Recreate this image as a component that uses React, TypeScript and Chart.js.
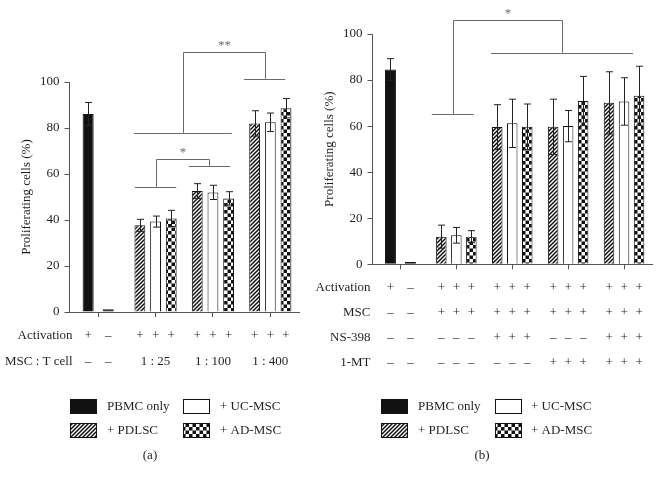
import React, { useEffect, useRef } from 'react';
import { Chart, registerables } from 'chart.js';
Chart.register(...registerables);

const FONT = '"Liberation Serif", "Times New Roman", serif';
const TEXT = '#231f20';
const AXIS = '#555555';
const BRACKET = '#6a6a6a';
const INK = '#111111';

// ---------- Panel (a) data ----------
const catA = ['PBMC', '1 : 25', '1 : 100', '1 : 400'];
const pbmcOnA = [86.1, null, null, null];
const pbmcOffA = [1.2, null, null, null];
const pdlscA = [null, 37.7, 52.6, 82.0];
const ucmscA = [null, 39.3, 52.0, 82.5];
const admscA = [null, 40.7, 49.4, 88.6];
const pbmcOnErrA = [5.0, 0, 0, 0];
const pbmcOffErrA = [0, 0, 0, 0];
const pdlscErrA = [0, 2.6, 3.2, 5.5];
const ucmscErrA = [0, 2.4, 3.1, 4.0];
const admscErrA = [0, 3.5, 2.9, 4.2];
const activationA = [['+', '–'], ['+', '+', '+'], ['+', '+', '+'], ['+', '+', '+']];
const ratioA = [['–', '–'], ['1 : 25'], ['1 : 100'], ['1 : 400']];
const spansA = [
  { from: 0.64, to: 1.36, y: 54.4 },
  { from: 1.58, to: 2.3, y: 63.6 },
  { from: 0.62, to: 2.33, y: 77.9 },
  { from: 2.54, to: 3.26, y: 101.4 },
];
const bracketsA = [
  { a: 0, b: 1, top: 66.6, label: '*' },
  { a: 2, b: 3, top: 113.2, label: '**' },
];

// ---------- Panel (b) data ----------
const catB = ['PBMC', 'MSC', 'MSC + NS-398', 'MSC + 1-MT', 'MSC + NS-398 + 1-MT'];
const pbmcOnB = [84.6, null, null, null, null];
const pbmcOffB = [1.0, null, null, null, null];
const pdlscB = [null, 12.0, 59.6, 59.7, 70.1];
const ucmscB = [null, 12.6, 61.2, 60.0, 70.7];
const admscB = [null, 12.0, 59.7, 70.9, 73.2];
const pbmcOnErrB = [4.7, 0, 0, 0, 0];
const pbmcOffErrB = [0, 0, 0, 0, 0];
const pdlscErrB = [0, 5.0, 9.7, 12.0, 13.5];
const ucmscErrB = [0, 3.4, 10.5, 6.8, 10.3];
const admscErrB = [0, 2.6, 9.9, 10.7, 12.8];
const activationB = [['+', '–'], ['+', '+', '+'], ['+', '+', '+'], ['+', '+', '+'], ['+', '+', '+']];
const mscB = [['–', '–'], ['+', '+', '+'], ['+', '+', '+'], ['+', '+', '+'], ['+', '+', '+']];
const ns398B = [['–', '–'], ['–', '–', '–'], ['+', '+', '+'], ['–', '–', '–'], ['+', '+', '+']];
const mtB = [['–', '–'], ['–', '–', '–'], ['–', '–', '–'], ['+', '+', '+'], ['+', '+', '+']];
const spansB = [
  { from: 0.56, to: 1.31, y: 65.1 },
  { from: 1.62, to: 4.16, y: 91.9 },
];
const bracketsB = [{ a: 0, b: 1, top: 106.0, label: '*' }];

const yTicks = [0, 20, 40, 60, 80, 100];
const legendLabels = ['PBMC only', '+ UC-MSC', '+ PDLSC', '+ AD-MSC'];
const yTitle = 'Proliferating cells (%)';

type Fill = 'black' | 'hatch' | 'white' | 'check';

function makePatterns(ctx: CanvasRenderingContext2D) {
  const h = document.createElement('canvas');
  h.width = 4; h.height = 4;
  const hg = h.getContext('2d')!;
  hg.fillStyle = '#fff'; hg.fillRect(0, 0, 4, 4);
  hg.strokeStyle = INK; hg.lineWidth = 1.5;
  hg.beginPath();
  hg.moveTo(0, 4); hg.lineTo(4, 0);
  hg.moveTo(-1, 1); hg.lineTo(1, -1);
  hg.moveTo(3, 5); hg.lineTo(5, 3);
  hg.stroke();
  const c = document.createElement('canvas');
  c.width = 7; c.height = 7;
  const cg = c.getContext('2d')!;
  cg.fillStyle = '#fff'; cg.fillRect(0, 0, 7, 7);
  cg.fillStyle = INK;
  cg.fillRect(0, 0, 3.5, 3.5);
  cg.fillRect(3.5, 3.5, 3.5, 3.5);
  return {
    black: INK,
    white: '#ffffff',
    hatch: ctx.createPattern(h, 'repeat')!,
    check: ctx.createPattern(c, 'repeat')!,
  } as Record<Fill, any>;
}

type Series = { label: string; data: (number | null)[]; err: number[]; fill: Fill; pbmc: boolean };

type Panel = {
  ox: number; width: number;
  area: { left: number; right: number; top: number; bottom: number };
  cats: string[];
  series: Series[];
  rows: { label: string; cells: string[][] }[];
  rowY: number[];
  labelRight: number;
  spans: { from: number; to: number; y: number }[];
  brackets: { a: number; b: number; top: number; label: string }[];
  legendBoxX: number[]; legendTextX: number[]; legendY: number[];
  caption: string; captionX: number; captionY: number;
  titleX: number;
  catPct: number; barPct: number; pbmcCatPct: number; pbmcBarPct: number;
};

const panelA: Panel = {
  ox: 0, width: 312,
  area: { left: 69.5, right: 299, top: 82, bottom: 312 },
  cats: catA,
  series: [
    { label: 'PBMC only (+)', data: pbmcOnA, err: pbmcOnErrA, fill: 'black', pbmc: true },
    { label: 'PBMC only (−)', data: pbmcOffA, err: pbmcOffErrA, fill: 'black', pbmc: true },
    { label: '+ PDLSC', data: pdlscA, err: pdlscErrA, fill: 'hatch', pbmc: false },
    { label: '+ UC-MSC', data: ucmscA, err: ucmscErrA, fill: 'white', pbmc: false },
    { label: '+ AD-MSC', data: admscA, err: admscErrA, fill: 'check', pbmc: false },
  ],
  rows: [
    { label: 'Activation', cells: activationA },
    { label: 'MSC : T cell', cells: ratioA },
  ],
  rowY: [336, 362],
  labelRight: 72.5,
  spans: spansA,
  brackets: bracketsA,
  legendBoxX: [70, 183, 70, 183], legendTextX: [107, 220, 107, 220], legendY: [399, 399, 423, 423],
  caption: '(a)', captionX: 150, captionY: 456,
  titleX: 27,
  catPct: 0.82, barPct: 0.69, pbmcCatPct: 0.7, pbmcBarPct: 0.55,
};

const panelB: Panel = {
  ox: 312, width: 349,
  area: { left: 372.5, right: 652, top: 34, bottom: 264.3 },
  cats: catB,
  series: [
    { label: 'PBMC only (+)', data: pbmcOnB, err: pbmcOnErrB, fill: 'black', pbmc: true },
    { label: 'PBMC only (−)', data: pbmcOffB, err: pbmcOffErrB, fill: 'black', pbmc: true },
    { label: '+ PDLSC', data: pdlscB, err: pdlscErrB, fill: 'hatch', pbmc: false },
    { label: '+ UC-MSC', data: ucmscB, err: ucmscErrB, fill: 'white', pbmc: false },
    { label: '+ AD-MSC', data: admscB, err: admscErrB, fill: 'check', pbmc: false },
  ],
  rows: [
    { label: 'Activation', cells: activationB },
    { label: 'MSC', cells: mscB },
    { label: 'NS-398', cells: ns398B },
    { label: '1-MT', cells: mtB },
  ],
  rowY: [288, 313, 338, 363],
  labelRight: 370.5,
  spans: spansB,
  brackets: bracketsB,
  legendBoxX: [381, 495, 381, 495], legendTextX: [418, 531, 418, 531], legendY: [399, 399, 423, 423],
  caption: '(b)', captionX: 482, captionY: 456,
  titleX: 330,
  catPct: 0.805, barPct: 0.7, pbmcCatPct: 0.715, pbmcBarPct: 0.55,
};

function drawExtras(chart: any, p: Panel, pats: Record<Fill, any>) {
  const ctx: CanvasRenderingContext2D = chart.ctx;
  const xs = chart.scales.x;
  const ys = chart.scales.y;
  const area = chart.chartArea;
  const ox = p.ox;
  ctx.save();

  // x-axis extension to the left of the y-axis
  ctx.strokeStyle = AXIS; ctx.lineWidth = 1;
  const by = Math.round(area.bottom) + 0.5;
  ctx.beginPath(); ctx.moveTo(area.left - 4.5, by); ctx.lineTo(area.left, by); ctx.stroke();

  // error bars
  ctx.strokeStyle = '#222'; ctx.lineWidth = 1;
  p.series.forEach((s, di) => {
    const meta = chart.getDatasetMeta(di);
    meta.data.forEach((el: any, j: number) => {
      const v = s.data[j];
      const e = s.err[j];
      if (v == null || !e) return;
      const x = Math.round(el.x) + 0.5;
      const yt = ys.getPixelForValue(v + e);
      const yb = ys.getPixelForValue(v - e);
      ctx.beginPath();
      ctx.moveTo(x, yt); ctx.lineTo(x, yb);
      ctx.moveTo(x - 3.5, yt); ctx.lineTo(x + 3.5, yt);
      ctx.moveTo(x - 3.5, yb); ctx.lineTo(x + 3.5, yb);
      ctx.stroke();
    });
  });

  // significance spans and brackets
  const c0 = xs.getPixelForValue(0);
  const cw = xs.getPixelForValue(1) - c0;
  const fx = (f: number) => c0 + f * cw;
  ctx.strokeStyle = BRACKET; ctx.lineWidth = 1;
  p.spans.forEach((sp) => {
    const y = Math.round(ys.getPixelForValue(sp.y)) + 0.5;
    ctx.beginPath(); ctx.moveTo(fx(sp.from), y); ctx.lineTo(fx(sp.to), y); ctx.stroke();
  });
  ctx.fillStyle = BRACKET;
  ctx.font = `13px ${FONT}`;
  ctx.textAlign = 'center';
  ctx.textBaseline = 'middle';
  p.brackets.forEach((b) => {
    const sa = p.spans[b.a], sb = p.spans[b.b];
    const xa = Math.round(fx((sa.from + sa.to) / 2)) + 0.5;
    const xb = Math.round(fx((sb.from + sb.to) / 2)) + 0.5;
    const ya = ys.getPixelForValue(sa.y);
    const yb = ys.getPixelForValue(sb.y);
    const yt = Math.round(ys.getPixelForValue(b.top)) + 0.5;
    ctx.beginPath();
    ctx.moveTo(xa, ya); ctx.lineTo(xa, yt); ctx.lineTo(xb, yt); ctx.lineTo(xb, yb);
    ctx.stroke();
    ctx.fillText(b.label, (xa + xb) / 2, yt - 7);
  });

  // table under the axis
  ctx.fillStyle = TEXT;
  ctx.font = `13px ${FONT}`;
  p.rows.forEach((row, ri) => {
    const y = p.rowY[ri];
    ctx.textAlign = 'right';
    ctx.fillText(row.label, p.labelRight - ox, y);
    ctx.textAlign = 'center';
    row.cells.forEach((cells, g) => {
      const xsPos: number[] = [];
      p.series.forEach((s, di) => {
        if (s.data[g] != null) xsPos.push(chart.getDatasetMeta(di).data[g].x);
      });
      xsPos.sort((a, b) => a - b);
      if (cells.length === xsPos.length) {
        cells.forEach((t, k) => ctx.fillText(t, xsPos[k], y));
      } else {
        ctx.fillText(cells.join(' '), xs.getPixelForValue(g), y);
      }
    });
  });

  // legend
  const fills: Fill[] = ['black', 'white', 'hatch', 'check'];
  fills.forEach((f, k) => {
    const bx = p.legendBoxX[k] - ox;
    const byy = p.legendY[k];
    ctx.fillStyle = pats[f];
    ctx.fillRect(bx, byy, 27, 15);
    ctx.strokeStyle = INK; ctx.lineWidth = 1;
    ctx.strokeRect(bx + 0.5, byy + 0.5, 26, 14);
    ctx.fillStyle = TEXT;
    ctx.textAlign = 'left';
    ctx.fillText(legendLabels[k], p.legendTextX[k] - ox, byy + 7.5);
  });

  // caption
  ctx.textAlign = 'center';
  ctx.fillText(p.caption, p.captionX - ox, p.captionY);

  // y title
  ctx.save();
  ctx.translate(p.titleX - ox, (area.top + area.bottom) / 2);
  ctx.rotate(-Math.PI / 2);
  ctx.fillText(yTitle, 0, 0);
  ctx.restore();

  ctx.restore();
}

function PanelChart({ p }: { p: Panel }) {
  const ref = useRef<HTMLCanvasElement>(null);
  useEffect(() => {
    const canvas = ref.current!;
    const ctx = canvas.getContext('2d')!;
    const pats = makePatterns(ctx);
    const yW = 40;
    const xH = 10;
    const left = p.area.left - p.ox;
    const chart = new Chart(ctx, {
      type: 'bar',
      data: {
        labels: p.cats,
        datasets: p.series.map((s) => ({
          label: s.label,
          data: s.data as any,
          backgroundColor: pats[s.fill],
          borderColor: INK,
          borderWidth: 1,
          categoryPercentage: s.pbmc ? p.pbmcCatPct : p.catPct,
          barPercentage: s.pbmc ? p.pbmcBarPct : p.barPct,
          skipNull: true,
        })) as any,
      },
      options: {
        responsive: false,
        animation: false,
        events: [],
        layout: {
          padding: {
            left: left - yW,
            right: p.width - (p.area.right - p.ox),
            top: p.area.top,
            bottom: 482 - p.area.bottom - xH,
          },
        },
        plugins: { legend: { display: false }, tooltip: { enabled: false } },
        scales: {
          x: {
            type: 'category',
            offset: true,
            grid: { display: true, drawOnChartArea: false, drawTicks: true, tickLength: 5, offset: false, color: AXIS },
            border: { display: true, color: AXIS, width: 1 },
            ticks: { display: false },
            afterFit: (s: any) => { s.height = xH; },
          },
          y: {
            min: 0, max: 100,
            afterBuildTicks: (s: any) => { s.ticks = yTicks.map((v) => ({ value: v })); },
            grid: { display: true, drawOnChartArea: false, drawTicks: true, tickLength: 5, color: AXIS },
            border: { display: true, color: AXIS, width: 1 },
            ticks: { color: TEXT, padding: 5, font: { family: FONT, size: 13 } },
            afterFit: (s: any) => { s.width = yW; },
          },
        },
      } as any,
      plugins: [{ id: 'extras', afterDatasetsDraw: (c: any) => drawExtras(c, p, pats) }],
    });
    return () => chart.destroy();
  }, [p]);
  return (
    <canvas
      ref={ref}
      width={p.width}
      height={482}
      style={{ position: 'absolute', left: p.ox, top: 0, width: p.width, height: 482 }}
    />
  );
}

export default function App() {
  return (
    <div style={{ position: 'absolute', left: 0, top: 0, width: 661, height: 482, background: '#fff', overflow: 'hidden' }}>
      <PanelChart p={panelA} />
      <PanelChart p={panelB} />
    </div>
  );
}
